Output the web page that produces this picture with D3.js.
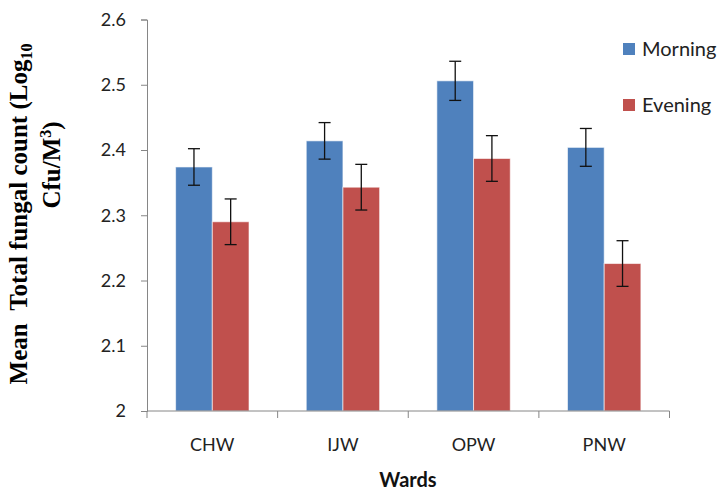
<!DOCTYPE html>
<html>
<head>
<meta charset="utf-8">
<script src="https://cdn.jsdelivr.net/npm/d3@7"></script>
<style>
  body { margin: 0; background: #fff; }
  .tick-label { font-family: Lato, "Open Sans", sans-serif; font-size: 18px; fill: #222; }
</style>
</head>
<body>
<div id="chart"></div>
<script>
// data
const wards = ['CHW', 'IJW', 'OPW', 'PNW'];
const seriesNames = ['Morning', 'Evening'];
const morning = [2.374, 2.414, 2.506, 2.404];
const evening = [2.290, 2.343, 2.387, 2.226];
const morningErr = [0.028, 0.028, 0.030, 0.029];
const eveningErr = [0.035, 0.035, 0.035, 0.035];
const yTicks = [2, 2.1, 2.2, 2.3, 2.4, 2.5, 2.6];
const colors = ['#4F81BD', '#C0504D'];

const width = 721, height = 493;
const marginLeft = 147, marginTop = 19.5, plotRight = 669.5, plotBottom = 411;

const svg = d3.select('#chart').append('svg')
  .attr('width', width).attr('height', height);

const x = d3.scaleBand().domain(wards).range([marginLeft, plotRight]).paddingInner(0).paddingOuter(0);
const inner = d3.scaleBand().domain(seriesNames).range([0, x.bandwidth()]).paddingInner(0).paddingOuter(0.78);
const y = d3.scaleLinear().domain([2, 2.6]).range([plotBottom, marginTop]);

const rows = wards.map((w, i) => ({
  ward: w,
  vals: [
    { s: 'Morning', v: morning[i], e: morningErr[i], c: colors[0] },
    { s: 'Evening', v: evening[i], e: eveningErr[i], c: colors[1] }
  ]
}));

// bars
const groups = svg.append('g').selectAll('g').data(rows).enter().append('g')
  .attr('transform', d => 'translate(' + x(d.ward) + ',0)');

groups.selectAll('rect').data(d => d.vals).enter().append('rect')
  .attr('x', d => inner(d.s))
  .attr('y', d => y(d.v))
  .attr('width', inner.bandwidth())
  .attr('height', d => y(2) - y(d.v))
  .attr('fill', d => d.c)
  .attr('stroke', 'rgba(255,255,255,0.6)')
  .attr('stroke-width', 1);

// error bars
const cap = 6;
const eb = groups.selectAll('g.err').data(d => d.vals).enter().append('g').attr('class', 'err')
  .attr('stroke', '#111').attr('stroke-width', 1.3);
eb.append('line')
  .attr('x1', d => inner(d.s) + inner.bandwidth() / 2)
  .attr('x2', d => inner(d.s) + inner.bandwidth() / 2)
  .attr('y1', d => y(d.v + d.e)).attr('y2', d => y(d.v - d.e));
eb.append('line')
  .attr('x1', d => inner(d.s) + inner.bandwidth() / 2 - cap)
  .attr('x2', d => inner(d.s) + inner.bandwidth() / 2 + cap)
  .attr('y1', d => y(d.v + d.e)).attr('y2', d => y(d.v + d.e));
eb.append('line')
  .attr('x1', d => inner(d.s) + inner.bandwidth() / 2 - cap)
  .attr('x2', d => inner(d.s) + inner.bandwidth() / 2 + cap)
  .attr('y1', d => y(d.v - d.e)).attr('y2', d => y(d.v - d.e));

// y axis
const yAxis = d3.axisLeft(y).tickValues(yTicks).tickSize(6).tickPadding(15)
  .tickFormat(d3.format('~g'));
const gy = svg.append('g').attr('transform', 'translate(' + marginLeft + ',0)').call(yAxis);
gy.select('.domain').attr('stroke', '#868686');
gy.selectAll('.tick line').attr('stroke', '#868686');
gy.selectAll('.tick text').attr('class', 'tick-label').attr('font-family', null).attr('font-size', null);

// x axis (ticks between categories)
const gx = svg.append('g');
gx.append('line').attr('x1', marginLeft).attr('x2', plotRight)
  .attr('y1', plotBottom).attr('y2', plotBottom).attr('stroke', '#868686');
const bounds = wards.map(w => x(w)).concat([x(wards[wards.length - 1]) + x.bandwidth()]);
gx.selectAll('line.t').data(bounds).enter().append('line').attr('class', 't')
  .attr('x1', d => d).attr('x2', d => d)
  .attr('y1', plotBottom).attr('y2', plotBottom + 7).attr('stroke', '#868686');
gx.selectAll('text').data(wards).enter().append('text')
  .attr('class', 'tick-label')
  .attr('x', d => x(d) + x.bandwidth() / 2)
  .attr('y', plotBottom + 40)
  .attr('text-anchor', 'middle')
  .text(d => d);

// axis titles
svg.append('text')
  .attr('x', 408).attr('y', 487)
  .attr('text-anchor', 'middle')
  .attr('font-family', 'Lato, "Open Sans", sans-serif')
  .attr('font-weight', 'bold').attr('font-size', 20).attr('fill', '#111')
  .text('Wards');

const yt = svg.append('text')
  .attr('transform', 'translate(27,214) rotate(-90)')
  .attr('text-anchor', 'middle')
  .attr('font-family', '"Liberation Serif", "Times New Roman", serif')
  .attr('font-weight', 'bold').attr('font-size', 25).attr('fill', '#000');
yt.append('tspan').attr('xml:space', 'preserve').text('Mean\u00a0\u00a0Total fungal count (Log');
yt.append('tspan').attr('font-size', 16).attr('dy', 5).text('10');

const yt2 = svg.append('text')
  .attr('transform', 'translate(60,165) rotate(-90)')
  .attr('text-anchor', 'middle')
  .attr('font-family', '"Liberation Serif", "Times New Roman", serif')
  .attr('font-weight', 'bold').attr('font-size', 25).attr('fill', '#000');
yt2.append('tspan').text('Cfu/M');
yt2.append('tspan').attr('font-size', 16).attr('dy', -9).text('3');
yt2.append('tspan').attr('dy', 9).text(')');

// legend
const legend = svg.append('g').selectAll('g').data(seriesNames).enter().append('g')
  .attr('transform', (d, i) => 'translate(623,' + (43 + i * 56) + ')');
legend.append('rect').attr('width', 12).attr('height', 12)
  .attr('fill', (d, i) => colors[i]);
legend.append('text').attr('x', 19).attr('y', 13)
  .attr('font-family', 'Lato, "Open Sans", sans-serif').attr('font-size', 20).attr('fill', '#222')
  .text(d => d);
</script>
</body>
</html>
